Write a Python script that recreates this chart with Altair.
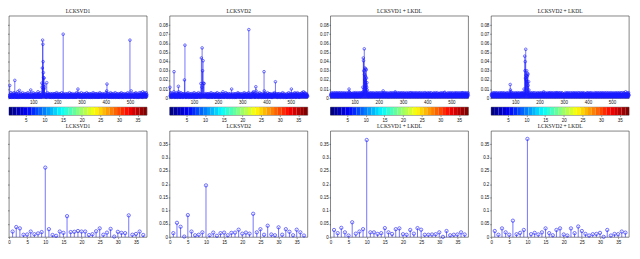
import altair as alt
import pandas as pd

TITLES = ["LCKSVD1", "LCKSVD2", "LCKSVD1 + LKDL", "LCKSVD2 + LKDL"]

N_ATOMS_AXIS = [0, 570]
ATOM_TICKS = [100, 200, 300, 400, 500]
CLASS_TICKS_TOP = [5, 10, 15, 20, 25, 30, 35]
CLASS_TICKS_BOTTOM = [0, 5, 10, 15, 20, 25, 30, 35]
Y_TICKS_TOP = [0, 0.01, 0.02, 0.03, 0.04, 0.05, 0.06, 0.07, 0.08]
Y_TICKS_BOTTOM = [0, 0.05, 0.1, 0.15, 0.2, 0.25, 0.3, 0.35]
CLASSES = list(range(1, 38))

# ---- atom responses (background level, in thousandths) ----
base_1 = [
    3,2,5,1,4,2,3,6,2,1, 3,4,2,5,3,1,2,4,3,2, 6,1,3,2,4,5,2,3,1,4,
    2,5,3,1,2,7,3,2,4,1, 3,2,5,2,3,4,1,2,3,5, 2,4,3,1,2,6,3,2,4,2,
    3,1,4,2,5,3,2,4,1,3, 2,5,3,2,1,4,3,6,2,3, 1,2,4,3,5,2,1,3,2,4,
    2,3,5,1,3,2,4,2,3,6, 1,2,4,3,2,5,3,1,4,2, 3,2,5,4,1,3,2,4,3,7,
    4,2,3,1,5,2,3,4,2,6, 3,2,1,4,3,5,2,3,4,6, 2,5,3,4,2,6,3,5,2,4,
    3,2,4,1,3,5,2,3,6,2, 4,3,2,5,3,4,2,3,1,4, 2,5,3,2,4,1,3,2,5,3,
    2,4,3,1,2,5,3,2,4,3, 1,5,2,3,4,2,6,3,2,1, 4,3,2,5,3,2,4,1,3,2,
    5,2,3,4,1,3,2,6,3,2, 4,3,1,2,5,3,2,4,2,3, 1,4,3,2,5,2,3,1,4,2,
    3,2,5,3,1,4,2,3,2,6, 3,1,2,4,3,5,2,3,4,2, 1,3,5,2,3,4,2,3,1,4,
    2,3,4,2,5,3,1,2,3,6, 2,4,3,2,1,5,3,2,4,3, 2,5,1,3,2,4,3,2,6,3,
    3,1,2,4,3,2,5,3,2,4, 1,3,2,5,2,3,4,2,3,1, 6,2,3,4,2,5,3,2,4,1,
    2,4,3,5,2,3,1,4,2,3, 5,2,4,3,1,2,3,6,2,4, 3,2,5,3,1,2,4,3,2,5,
    3,2,4,1,3,5,2,3,4,2, 3,1,4,2,6,3,2,5,3,2, 4,3,1,2,3,5,2,4,3,2,
    4,2,3,5,2,1,3,4,2,3, 2,6,3,1,4,2,3,5,2,3, 4,2,1,3,5,2,3,4,2,6,
    2,3,1,4,2,5,3,2,4,3, 1,2,5,3,2,4,2,3,6,2, 1,3,4,2,5,3,2,3,4,1,
    3,5,2,3,4,1,2,3,5,2, 4,3,2,6,3,1,4,2,3,5, 2,3,1,4,2,3,5,2,4,3,
    2,4,3,1,5,3,2,4,2,3, 6,2,3,1,4,2,5,3,2,3, 4,2,1,3,5,2,4,3,2,3,
    3,2,5,4,2,3,1,3,4,2, 5,3,2,6,2,3,4,1,3,2, 5,3,4,2,3,1,2,4,6,3,
    2,3,4,2,6,3,5,2,3,4, 1,3,7,2,4,3,5,2,6,3, 4,2,5,3,2,4,6,3,2,4,
]
base_2 = [
    4,3,2,5,6,2,3,1,4,2, 3,5,2,4,3,2,7,6,2,3, 1,4,2,3,5,2,4,6,3,2,
    3,1,4,2,5,3,2,3,4,2, 5,3,1,2,4,6,3,2,5,3, 2,4,3,1,5,2,3,4,2,3,
    2,5,3,4,2,3,1,4,2,3, 5,2,4,3,6,2,3,1,4,2, 3,5,2,3,4,2,1,3,5,2,
    4,2,3,1,5,3,2,4,3,2, 6,3,2,4,1,3,5,2,3,4, 2,3,1,5,2,4,3,2,6,3,
    3,2,4,2,5,3,1,4,3,2, 5,4,3,6,2,5,3,4,2,6, 3,5,2,4,3,2,5,3,2,4,
    2,3,5,2,4,1,3,2,5,3, 2,4,3,1,5,2,3,4,2,3, 6,2,4,3,1,2,5,3,2,4,
    3,4,2,5,3,2,1,4,3,2, 5,3,2,4,2,6,3,1,2,4, 3,2,5,3,2,4,1,3,2,5,
    2,3,4,1,3,5,2,3,2,7, 3,2,4,3,1,5,2,3,4,2, 3,6,2,4,3,2,5,1,3,2,
    4,2,3,5,2,3,4,1,3,2, 5,3,2,4,3,6,2,3,1,4, 2,3,5,2,4,3,2,1,3,5,
    3,2,4,3,1,2,5,3,2,4, 3,6,2,3,4,2,5,3,1,2, 4,3,2,5,3,2,4,2,3,1,
    2,5,3,2,4,3,1,6,2,3, 4,2,5,3,2,3,4,1,2,5, 3,2,4,3,2,6,3,2,4,1,
    3,2,4,5,2,3,1,4,2,3, 5,2,4,6,3,2,3,4,5,2, 3,1,4,2,3,5,2,4,3,2,
    2,4,3,2,5,3,1,2,4,3, 6,2,3,4,2,5,3,2,1,4, 3,2,5,3,4,2,3,1,4,2,
    3,5,2,4,3,1,2,5,3,2, 4,3,2,6,2,3,4,1,3,5, 2,3,4,2,5,3,2,4,3,1,
    4,2,3,1,5,2,4,3,2,3, 5,2,6,3,2,4,1,3,2,5, 3,4,2,3,1,4,2,5,3,2,
    2,3,5,2,4,3,2,1,4,3, 2,5,3,4,2,3,6,2,3,1, 4,2,3,5,2,4,3,2,1,3,
    3,4,2,3,1,5,3,2,4,2, 3,6,2,4,3,1,2,5,3,4, 2,3,2,4,5,3,2,1,3,4,
    2,3,5,4,2,3,6,2,3,4, 1,5,3,2,4,3,2,6,3,2, 5,4,3,2,1,3,4,2,5,3,
    3,2,4,5,3,2,6,4,3,2, 5,3,7,2,4,3,2,6,3,5, 2,4,3,2,5,3,4,2,3,2,
]
base_3 = [
    3,4,5,3,6,2,4,3,5,4, 2,3,6,4,3,5,2,4,3,6, 4,3,2,5,4,3,6,2,4,3,
    5,3,4,2,6,3,4,5,3,2, 4,6,3,4,2,5,3,4,6,3, 2,4,5,3,4,2,6,4,3,5,
    4,2,3,5,4,6,3,2,4,3, 5,4,2,3,6,4,3,5,2,4, 3,6,4,2,5,3,4,3,2,5,
    3,5,4,2,3,6,4,3,5,2, 4,3,6,5,3,4,2,5,3,4, 6,3,2,4,5,3,4,2,6,3,
    4,3,5,2,6,4,3,5,4,3, 6,4,5,3,7,4,6,5,4,6, 5,3,6,4,5,7,4,6,5,4,
    3,4,6,3,5,4,2,3,5,4, 6,3,4,2,5,3,4,6,3,2, 4,5,3,4,2,6,3,4,5,3,
    4,2,5,3,4,6,3,4,2,5, 3,4,6,3,2,4,5,3,4,3, 6,2,4,5,3,4,2,3,6,4,
    3,5,4,2,3,4,6,3,5,4, 2,3,4,5,3,6,4,2,3,5, 4,3,6,4,2,5,3,4,3,2,
    5,3,4,6,2,4,3,5,4,3, 6,4,2,3,5,4,3,6,2,4, 3,5,4,3,2,4,6,3,5,4,
    3,4,2,5,4,3,6,4,3,2, 5,4,3,6,3,4,2,5,4,3, 4,6,3,2,5,4,3,4,6,3,
    4,3,5,4,2,6,3,4,5,3, 2,4,3,5,6,4,3,2,4,5, 3,4,6,3,4,2,5,3,4,6,
    2,4,3,6,4,3,5,2,4,3, 6,4,5,3,2,4,3,5,4,6, 3,2,4,3,5,4,6,3,2,4,
    5,3,4,2,4,6,3,5,4,3, 2,4,6,3,4,5,3,2,4,3, 6,4,3,5,2,4,3,4,6,3,
    3,4,6,3,5,2,4,3,4,5, 3,6,4,2,3,4,5,3,6,4, 2,3,5,4,3,6,4,2,4,3,
    4,2,3,5,4,3,6,4,2,3, 5,4,3,4,6,2,3,5,4,3, 4,6,3,2,4,5,3,4,2,5,
    3,5,4,3,2,6,4,3,5,4, 3,2,4,6,3,5,4,3,2,4, 6,3,5,4,3,2,4,3,5,4,
    4,3,2,5,4,3,6,2,4,3, 5,4,3,2,6,4,3,5,4,3, 2,4,6,3,4,5,3,2,4,3,
    3,6,4,3,5,2,4,3,6,4, 3,5,2,4,3,4,6,3,5,4, 3,2,4,5,3,6,4,3,4,2,
    4,3,5,4,2,6,3,4,3,5, 4,3,6,2,4,3,5,4,3,6, 4,5,3,2,4,3,5,4,6,3,
]
base_4 = [
    4,3,5,2,4,6,3,4,2,5, 3,4,6,3,5,2,4,3,6,4, 3,5,2,4,3,6,4,3,5,2,
    3,4,2,6,3,5,4,3,2,4, 6,3,5,4,2,3,4,6,3,5, 4,2,3,4,6,3,5,4,2,3,
    5,3,4,2,6,4,3,5,3,4, 2,6,3,4,5,3,2,4,6,3, 4,5,3,2,4,6,3,4,5,3,
    2,4,6,3,4,5,3,2,4,3, 5,6,4,3,2,4,5,3,6,4, 3,2,5,4,3,6,4,2,3,5,
    4,3,5,4,6,3,5,4,3,6, 4,5,3,6,4,7,5,4,6,5, 4,6,3,5,4,6,5,3,4,5,
    3,5,4,2,4,3,6,4,3,5, 2,4,3,6,4,3,5,2,4,3, 6,4,3,5,2,4,6,3,4,3,
    4,2,3,6,4,5,3,4,2,3, 5,4,6,3,2,4,3,5,4,6, 3,4,2,5,3,4,6,3,5,4,
    3,4,5,3,2,6,4,3,5,4, 3,2,4,6,3,5,4,3,2,4, 5,3,6,4,3,2,4,5,3,6,
    5,3,4,2,6,4,3,5,3,4, 6,2,4,3,5,4,3,6,4,2, 3,5,4,3,6,4,2,3,5,4,
    3,4,6,3,5,2,4,3,4,6, 3,5,4,2,3,6,4,5,3,4, 2,3,6,4,5,3,4,2,4,3,
    4,5,3,2,4,3,6,4,3,5, 4,2,3,6,4,3,5,4,2,3, 6,4,3,5,4,2,3,4,6,3,
    2,4,3,5,4,6,3,2,4,3, 5,4,6,3,4,2,5,3,4,6, 3,4,2,3,5,4,6,3,4,2,
    4,3,6,4,2,3,5,4,3,6, 2,4,3,5,4,3,6,2,4,5, 3,4,6,3,2,4,5,3,4,3,
    3,5,4,2,6,4,3,4,5,3, 6,2,4,3,5,4,2,3,6,4, 5,3,4,2,3,6,4,5,3,4,
    4,3,2,5,4,3,6,3,4,2, 5,4,3,6,2,4,5,3,4,3, 6,4,2,3,5,4,3,6,4,2,
    3,4,5,3,6,2,4,3,5,4, 3,6,4,2,3,5,4,3,4,6, 2,3,5,4,3,4,6,3,2,4,
    5,3,4,6,3,4,2,5,4,3, 4,6,3,2,4,5,3,4,6,3, 4,2,3,5,4,3,6,4,3,5,
    3,4,2,5,4,6,3,4,3,2, 5,4,6,3,4,3,5,2,4,6, 3,4,5,3,2,4,6,3,4,3,
    4,3,6,4,2,5,3,4,6,3, 4,5,3,2,4,6,3,4,5,3, 2,4,6,3,4,5,3,6,4,3,
]

# ---- prominent atoms (atom index, response in thousandths) ----
peak_atoms_1 = [3, 24, 43, 90, 136, 137, 138, 139, 140, 141, 142, 143, 144, 145, 146, 147, 156, 224, 285, 404, 405, 500, 505]
peak_vals_1 = [14, 19.5, 8.5, 9, 16.5, 12, 33, 63.5, 59, 40, 28, 22.5, 10, 22, 15, 12, 17, 70, 10, 8, 15.5, 63.5, 8]
peak_atoms_2 = [1, 18, 19, 36, 37, 61, 63, 129, 131, 133, 134, 136, 138, 140, 142, 256, 327, 346, 356, 357, 390, 391, 437, 503]
peak_vals_2 = [12, 29, 4, 13, 7, 20, 58, 16, 44, 12, 55, 30, 41, 16.5, 16, 10, 75, 7, 12.5, 8, 29, 8, 18, 10]
peak_atoms_3 = [77, 78, 134, 136, 137, 138, 140, 141, 142, 143, 144, 145, 146, 147, 148, 149, 150, 151, 152, 218, 268, 473, 544]
peak_vals_3 = [10, 7, 12, 44, 41, 30, 54, 26, 20, 33, 17, 24, 32, 14, 31, 22, 12, 17, 9, 8, 7, 6.5, 6]
peak_atoms_4 = [79, 80, 81, 136, 139, 140, 141, 142, 143, 144, 145, 147, 148, 149, 151, 152, 153, 155, 156, 217, 270, 556]
peak_vals_4 = [15, 9, 7, 10, 46, 30, 40, 22, 53.5, 25, 20, 30, 18, 24, 27, 26, 14, 18, 9, 7, 6, 7]

# ---- per-class responses ----
class_resp_1 = [0.021, 0.038, 0.033, 0.009, 0.010, 0.021, 0.011, 0.014, 0.019, 0.262,
                0.030, 0.008, 0.005, 0.021, 0.016, 0.079, 0.019, 0.020, 0.023, 0.021,
                0.021, 0.008, 0.011, 0.022, 0.033, 0.009, 0.017, 0.031, 0.002, 0.020,
                0.016, 0.015, 0.082, 0.009, 0.012, 0.021, 0.008]
class_resp_2 = [0.015, 0.054, 0.039, 0.002, 0.083, 0.021, 0.007, 0.009, 0.018, 0.195,
                0.007, 0.017, 0.005, 0.015, 0.017, 0.007, 0.016, 0.017, 0.028, 0.013,
                0.017, 0.013, 0.088, 0.018, 0.030, 0.009, 0.043, 0.010, 0.007, 0.037,
                0.009, 0.030, 0.020, 0.007, 0.028, 0.018, 0.006]
class_resp_3 = [0.027, 0.015, 0.035, 0.018, 0.006, 0.056, 0.013, 0.021, 0.030, 0.366,
                0.018, 0.018, 0.012, 0.015, 0.034, 0.018, 0.012, 0.030, 0.033, 0.011,
                0.009, 0.027, 0.013, 0.034, 0.028, 0.009, 0.009, 0.010, 0.011, 0.018,
                0.001, 0.023, 0.007, 0.009, 0.010, 0.018, 0.010]
class_resp_4 = [0.023, 0.009, 0.033, 0.018, 0.009, 0.062, 0.011, 0.016, 0.027, 0.370,
                0.011, 0.016, 0.010, 0.018, 0.033, 0.015, 0.007, 0.027, 0.033, 0.010,
                0.006, 0.033, 0.015, 0.040, 0.023, 0.012, 0.006, 0.011, 0.012, 0.016,
                0.001, 0.027, 0.006, 0.012, 0.011, 0.021, 0.017]

BASES = [base_1, base_2, base_3, base_4]
PEAK_ATOMS = [peak_atoms_1, peak_atoms_2, peak_atoms_3, peak_atoms_4]
PEAK_VALS = [peak_vals_1, peak_vals_2, peak_vals_3, peak_vals_4]
CLASS_RESP = [class_resp_1, class_resp_2, class_resp_3, class_resp_4]

BLUE = "#1a1aff"
LABEL_FONT = "Liberation Sans"
TITLE_FONT = "Liberation Serif"
PANEL_W = 139
TOP_H = 83
CBAR_H = 8
BOTTOM_H = 107
AXIS_STYLE = dict(title=None, grid=False, labelOverlap=False, labelFlush=False,
                  tickCount=50, labelFont=LABEL_FONT, labelFontSize=4.5,
                  labelColor="#111111", labelPadding=0.8, tickWidth=0.5,
                  tickColor="#333333", domain=False)


def atom_frame(base, patoms, pvals):
    vals = [b / 1000.0 for b in base]
    for a, v in zip(patoms, pvals):
        if a - 1 < len(vals):
            vals[a - 1] = v / 1000.0
    return pd.DataFrame({"x": list(range(1, len(vals) + 1)), "v": vals, "z": 0.0})


def class_frame(resp):
    return pd.DataFrame({"x": CLASSES[: len(resp)], "v": resp, "z": 0.0})


def jet_hex(t):
    def ch(c):
        return max(0.0, min(1.0, c))
    r = ch(1.5 - abs(4 * t - 3))
    g = ch(1.5 - abs(4 * t - 2))
    b = ch(1.5 - abs(4 * t - 1))
    return "#%02x%02x%02x" % (round(r * 255), round(g * 255), round(b * 255))


def stem(df, xdom, xticks, ydom, yticks, title, h, tick_size, msize):
    x = alt.X("x:Q", scale=alt.Scale(domain=xdom, nice=False, zero=False),
              axis=alt.Axis(values=xticks, format="d", tickSize=tick_size, **AXIS_STYLE))
    y = alt.Y("v:Q", scale=alt.Scale(domain=ydom, nice=False, zero=False),
              axis=alt.Axis(values=yticks, format=".2~f", tickSize=1.5, **AXIS_STYLE))
    base = alt.Chart(df)
    rules = base.mark_rule(color=BLUE, strokeWidth=0.6).encode(x=x, y=y, y2="z:Q")
    pts = base.mark_point(shape="circle", filled=False, size=msize, color=BLUE,
                          strokeWidth=0.6, opacity=1).encode(x="x:Q", y="v:Q")
    return alt.layer(rules, pts).properties(
        width=PANEL_W, height=h,
        title=alt.Title(title, font=TITLE_FONT, fontSize=5.5, fontWeight="normal",
                        offset=1, color="#111"))


def colorbar():
    n = len(CLASSES)
    cb = pd.DataFrame({
        "c0": [k - 0.5 for k in CLASSES],
        "c1": [k + 0.5 for k in CLASSES],
        "col": [jet_hex((k - 1) / (n - 1)) for k in CLASSES],
    })
    return alt.Chart(cb).mark_rect().encode(
        x=alt.X("c0:Q", scale=alt.Scale(domain=[0.5, 37.5], nice=False, zero=False),
                axis=alt.Axis(values=CLASS_TICKS_TOP, format="d", tickSize=1.5, **AXIS_STYLE)),
        x2="c1:Q",
        color=alt.Color("col:N", scale=None),
    ).properties(width=PANEL_W, height=CBAR_H)


tops, cbars, bottoms = [], [], []
for i in range(4):
    tops.append(stem(atom_frame(BASES[i], PEAK_ATOMS[i], PEAK_VALS[i]), N_ATOMS_AXIS,
                     ATOM_TICKS, [0, 0.09], Y_TICKS_TOP, TITLES[i], TOP_H, 1, 7))
    cbars.append(colorbar())
    bottoms.append(stem(class_frame(CLASS_RESP[i]), [0, 38], CLASS_TICKS_BOTTOM,
                        [0, 0.4], Y_TICKS_BOTTOM, TITLES[i], BOTTOM_H, 1.5, 11))

top_row = alt.hconcat(*tops, spacing=23, bounds="flush")
cbar_row = alt.hconcat(*cbars, spacing=23, bounds="flush")
bottom_row = alt.hconcat(*bottoms, spacing=23, bounds="flush")

chart = alt.vconcat(top_row, cbar_row, bottom_row, spacing=1).properties(
    padding={"left": -11, "top": 0, "right": 0, "bottom": 0}
).configure_view(
    stroke="#333333", strokeWidth=0.6
).configure_title(anchor="middle")

chart.save("out.html", embed_options={"renderer": "svg", "actions": False})
